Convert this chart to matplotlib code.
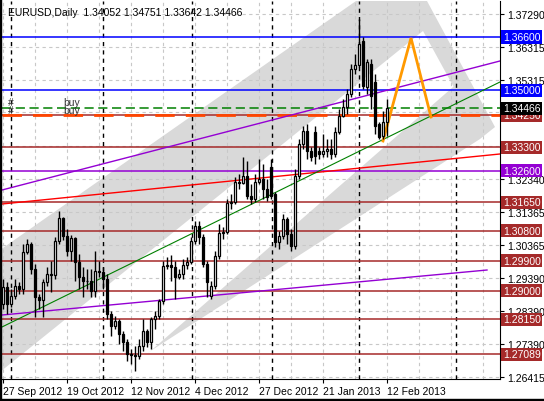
import matplotlib
matplotlib.use("Agg")
import matplotlib.pyplot as plt
from matplotlib.patches import Polygon, Rectangle

plt.rcParams['font.family'] = ['Liberation Sans', 'DejaVu Sans']

# ---------------- data ----------------
opens = [1.2859,1.2910,1.2859,1.2883,1.2913,1.2904,1.3015,1.3039,1.2964,1.2880,
         1.2871,1.2925,1.2949,1.2946,1.3048,1.3117,1.3063,1.3018,1.3057,1.2985,
         1.2940,1.2928,1.2928,1.2898,1.2958,1.2955,1.2934,1.2829,1.2793,1.2808,
         1.2769,1.2745,1.2709,1.2706,1.2703,1.2733,1.2778,1.2745,1.2814,1.2823,
         1.2868,1.2973,1.2976,1.2970,1.2940,1.2949,1.2976,1.2985,1.3048,1.3093,
         1.3060,1.2979,1.2883,1.2913,1.3003,1.3072,1.3075,1.3162,1.3165,1.3225,
         1.3222,1.3243,1.3183,1.3174,1.3225,1.3234,1.3204,1.3270,1.3189,1.3045,
         1.3063,1.3114,1.3069,1.3033,1.3243,1.3339,1.3378,1.3318,1.3375,1.3318,
         1.3309,1.3318,1.3324,1.3309,1.3375,1.3423,1.3450,1.3489,1.3564,1.3576,
         1.3648,1.3510,1.3579,1.3525,1.3399,1.3363,1.34052]
highs = [1.2934,1.2925,1.2904,1.2934,1.2925,1.3039,1.3054,1.3045,1.2979,1.2889,
         1.2934,1.2970,1.2988,1.3060,1.3138,1.3120,1.3084,1.3066,1.3060,1.3009,
         1.2970,1.2964,1.2964,1.3018,1.2988,1.2970,1.2949,1.2838,1.2823,1.2814,
         1.2778,1.2754,1.2724,1.2733,1.2754,1.2814,1.2784,1.2820,1.2838,1.2874,
         1.2988,1.3000,1.3006,1.2988,1.2964,1.2994,1.3000,1.3060,1.3108,1.3108,
         1.3069,1.2988,1.2928,1.3018,1.3099,1.3090,1.3174,1.3189,1.3240,1.3249,
         1.3300,1.3288,1.3219,1.3249,1.3294,1.3279,1.3234,1.3294,1.3195,1.3078,
         1.3129,1.3120,1.3084,1.3264,1.3354,1.3393,1.3399,1.3330,1.3393,1.3330,
         1.3369,1.3354,1.3354,1.3390,1.3444,1.3474,1.3504,1.3579,1.3609,1.3714,
         1.3660,1.3594,1.3594,1.3549,1.3405,1.3438,1.34751]
lows = [1.2844,1.2829,1.2850,1.2874,1.2889,1.2889,1.3009,1.2949,1.2820,1.2844,
        1.2820,1.2913,1.2895,1.2934,1.3039,1.3051,1.3003,1.2988,1.2928,1.2904,
        1.2880,1.2904,1.2880,1.2880,1.2940,1.2904,1.2814,1.2763,1.2784,1.2739,
        1.2718,1.2688,1.2679,1.2658,1.2694,1.2718,1.2730,1.2724,1.2784,1.2814,
        1.2859,1.2964,1.2928,1.2874,1.2934,1.2934,1.2964,1.2979,1.3039,1.3039,
        1.2970,1.2880,1.2874,1.2904,1.2994,1.3054,1.3069,1.3144,1.3159,1.3204,
        1.3219,1.3174,1.3159,1.3165,1.3219,1.3174,1.3168,1.3174,1.3030,1.3024,
        1.3054,1.3039,1.3018,1.3024,1.3234,1.3324,1.3294,1.3288,1.3279,1.3294,
        1.3300,1.3300,1.3294,1.3300,1.3369,1.3420,1.3429,1.3480,1.3549,1.3570,
        1.3504,1.3489,1.3444,1.3369,1.3354,1.3354,1.33642]
closes = [1.2910,1.2859,1.2883,1.2913,1.2904,1.3015,1.3039,1.2964,1.2880,1.2871,
          1.2925,1.2949,1.2946,1.3048,1.3117,1.3063,1.3018,1.3057,1.2985,1.2940,
          1.2928,1.2928,1.2898,1.2958,1.2955,1.2934,1.2829,1.2793,1.2808,1.2769,
          1.2745,1.2709,1.2706,1.2703,1.2733,1.2778,1.2745,1.2814,1.2823,1.2868,
          1.2973,1.2976,1.2970,1.2940,1.2949,1.2976,1.2985,1.3048,1.3093,1.3060,
          1.2979,1.2925,1.2913,1.3003,1.3072,1.3075,1.3162,1.3165,1.3225,1.3222,
          1.3243,1.3183,1.3174,1.3225,1.3234,1.3204,1.3180,1.3183,1.3045,1.3063,
          1.3114,1.3069,1.3033,1.3243,1.3339,1.3378,1.3318,1.3300,1.3303,1.3309,
          1.3318,1.3324,1.3309,1.3375,1.3423,1.3450,1.3489,1.3564,1.3576,1.3639,
          1.3513,1.3585,1.3483,1.3393,1.3360,1.3405,1.34466]

date_labels = ["27 Sep 2012", "19 Oct 2012", "12 Nov 2012", "4 Dec 2012",
               "27 Dec 2012", "21 Jan 2013", "12 Feb 2013"]
date_bars = [0, 16, 32, 48, 64, 80, 96]
month_bars = [2, 25, 47.25, 67.25, 89, 113.25]

price_ticks = [1.37290, 1.36315, 1.35315, 1.34340, 1.33340, 1.32340, 1.31365,
               1.30365, 1.29390, 1.28390, 1.27390, 1.26415]
price_tick_labels = ["1.37290", "1.36315", "1.35315", "", "", "1.32340", "1.31365",
                     "1.30365", "1.29390", "1.28390", "1.27390", "1.26415"]

levels = [1.36600, 1.35000, 1.34250, 1.33300, 1.32600, 1.31650, 1.30800,
          1.29900, 1.29000, 1.28150, 1.27089]
level_colors = ["#0000FF", "#0000FF", "#A52A2A", "#A52A2A", "#9400D3", "#A52A2A",
                "#A52A2A", "#A52A2A", "#A52A2A", "#A52A2A", "#A52A2A"]
current_price = 1.34466
buy_levels = [1.34470, 1.34250]

# trend lines (bar index, price)
trend_purple_up = ([-0.25, 124.25], [1.32017, 1.35882])
trend_red = ([-0.25, 124.25], [1.31598, 1.33096])
trend_green = ([-0.25, 124.25], [1.27913, 1.35253])
trend_purple_low = ([-0.25, 121.0], [1.28272, 1.29620])
zigzag = ([95, 102, 107], [1.33485, 1.36571, 1.34204])

# ---------------- figure ----------------
W, H = 544, 402
fig = plt.figure(figsize=(W / 100, H / 100), dpi=100, facecolor="white")
ax = fig.add_axes([2 / W, (H - 380) / H, 498 / W, 378 / H])
x0, x1 = -0.25, 124.25
y0, y1 = 1.26355, 1.37679
ax.set_xlim(x0, x1)
ax.set_ylim(y0, y1)


def px(xp, yp):
    """pixel position of a drawing object -> data coords"""
    bx = x0 + (xp - 2) / 498 * (x1 - x0)
    by = y1 - (yp - 2) / 378 * (y1 - y0)
    return (bx, by)


gray = "#D9D9D9"
outer = [px(*p) for p in [(0, 251), (356, 2), (427, 2), (495, 128), (480, 140), (107, 380), (0, 380)]]
inner = [px(*p) for p in [(0, 373), (423, 32), (453.5, 87.6), (118.5, 380), (0, 380)]]
ax.add_patch(Polygon(outer, closed=True, facecolor=gray, edgecolor="none", zorder=0))
ax.add_patch(Polygon(inner, closed=True, facecolor="white", edgecolor="none", zorder=0.5))

# grid
for b in range(0, 125, 8):
    ax.axvline(b, color="#C8C8C8", lw=0.8, ls=(0, (3, 3)), zorder=1)
for p in price_ticks:
    ax.axhline(p, color="#C8C8C8", lw=0.8, ls=(0, (3, 3)), zorder=1)
for b in month_bars:
    ax.axvline(b, color="black", lw=1.0, ls=(0, (3, 3)), zorder=1.5)

# horizontal levels
for lv, c in zip(levels, level_colors):
    ax.axhline(lv, color=c, lw=1.1, zorder=2)
ax.axhline(buy_levels[0], color="#008000", lw=1.1, ls=(0, (6, 3)), zorder=2.2)
ax.axhline(buy_levels[1], color="#FF4500", lw=2.0, ls=(0, (7, 4)), zorder=2.1)
for lv in buy_levels:
    ax.text(px(8, 0)[0], lv + 0.0017, "#", fontsize=7.5, color="#333333", va="center", ha="left", zorder=5)
    ax.text(px(63, 0)[0], lv + 0.0017, "buy", fontsize=7.5, color="#333333", va="center", ha="left", zorder=5)

# trend lines
ax.plot(*trend_purple_up, color="#9400D3", lw=1.0, zorder=2.5)
ax.plot(*trend_red, color="#FF0000", lw=1.0, zorder=2.5)
ax.plot(*trend_green, color="#008000", lw=0.8, zorder=2.5)
ax.plot(*trend_purple_low, color="#9400D3", lw=1.0, zorder=2.5)
ax.plot(*zigzag, color="#FF9900", lw=2.0, zorder=2.6, solid_joinstyle="miter")

# candles
bw = 0.55
for i, (o, h, l, c) in enumerate(zip(opens, highs, lows, closes)):
    ax.vlines(i, l, h, color="black", lw=1.0, zorder=3)
    lo, hi = min(o, c), max(o, c)
    if hi - lo < 0.00015:
        hi = lo + 0.00015
    ax.add_patch(Rectangle((i - bw / 2, lo), bw, hi - lo,
                           facecolor="white" if c >= o else "black",
                           edgecolor="black", lw=0.9, zorder=4))

# axes styling
for s in ["top", "left"]:
    ax.spines[s].set_visible(False)
ax.spines["right"].set_color("black")
ax.spines["bottom"].set_color("black")
ax.yaxis.tick_right()
ax.set_yticks(price_ticks)
ax.set_yticklabels(price_tick_labels, fontsize=7.5)
ax.tick_params(axis="y", length=3, pad=2, colors="black")
ax.set_xticks(date_bars)
ax.set_xticklabels(date_labels, fontsize=7.5, ha="left")
ax.tick_params(axis="x", length=3, pad=2)

# level boxes on the price axis
box_cols = level_colors + ["black"]
for lv, c in zip(levels + [current_price], box_cols):
    ax.text(1.006, lv, f"{lv:.5f}", transform=ax.get_yaxis_transform(),
            fontsize=7.5, color="white", va="center", ha="left", zorder=10,
            bbox=dict(boxstyle="square,pad=0.15", facecolor=c, edgecolor="none"),
            clip_on=False)

ax.text(0.012, 0.985, "EURUSD,Daily  1.34052 1.34751 1.33642 1.34466",
        transform=ax.transAxes, fontsize=7.5, va="top", ha="left", zorder=10)

fig.add_artist(Rectangle((0, 0), 1, 2 / H, transform=fig.transFigure, color="black"))
fig.add_artist(Rectangle((0, 0), 1 / W, 1, transform=fig.transFigure, color="black"))

fig.savefig("out.png", dpi=100)
